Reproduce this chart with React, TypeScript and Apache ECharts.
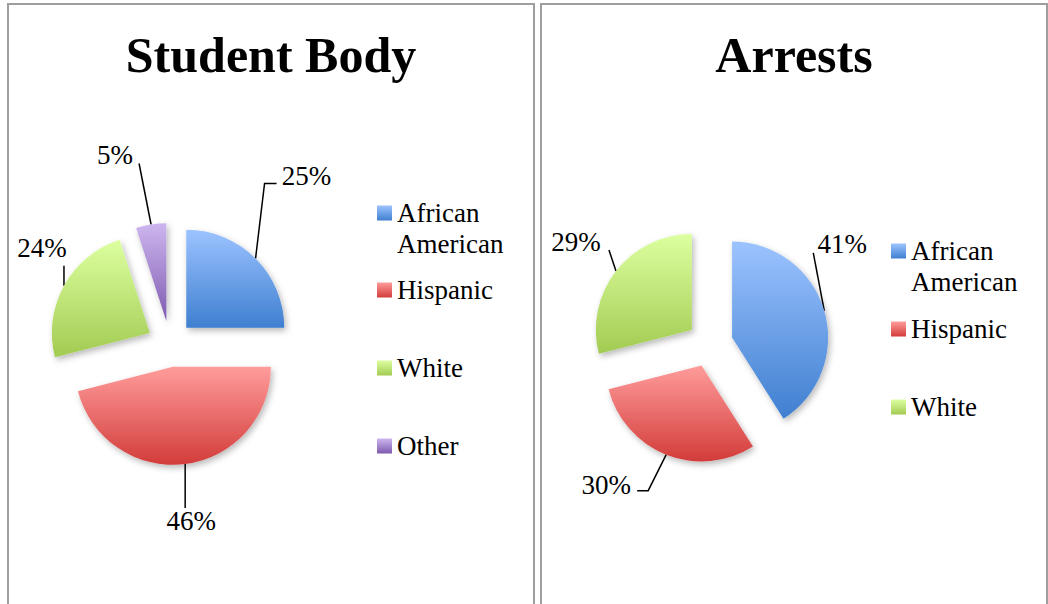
import React, { useEffect, useRef } from "react";
import * as echarts from "echarts";

// ---------- data ----------
const panelTitles = ["Student Body", "Arrests"];
const studentCategories = ["African American", "Hispanic", "White", "Other"];
const studentValues = [25, 46, 24, 5];
const arrestCategories = ["African American", "Hispanic", "White"];
const arrestValues = [41, 30, 29];

// ---------- styling / layout ----------
const FONT = '"Liberation Serif", "Times New Roman", serif';
const gradientStops: Record<string, [string, string]> = {
  "African American": ["#9CC3FF", "#3F7FD0"],
  Hispanic: ["#FF9C9B", "#D23C3A"],
  White: ["#DDFFA0", "#A2CB52"],
  Other: ["#CDB6EF", "#7E5AAF"],
};

// label placement relative to the slice's leader anchor (layout only)
const studentLabelOffsets = [
  { label: [51, -82], line: [[9, -75], [21, -75]] },
  { label: [6, 57], line: [[0, 44]] },
  { label: [-22, -38], line: [[0, -20]] },
  { label: [-36, -69], line: [[-12, -61]] },
];
const arrestLabelOffsets = [
  { label: [18, -67], line: [[-11, -58]] },
  { label: [-60, 30], line: [[-18, 36], [-29, 36]] },
  { label: [-40, -29], line: [[-7, -21]] },
];

const legendLayout = [
  { names: studentCategories, left: 377, centers: [213, 290, 368, 446] },
  { names: arrestCategories, left: 891, centers: [251, 329, 407] },
];

const EXPLODE = 23;

function grad(name: string) {
  const [a, b] = gradientStops[name];
  return new echarts.graphic.LinearGradient(0, 0, 0, 1, [
    { offset: 0, color: a },
    { offset: 1, color: b },
  ]);
}

// one pie series per slice, each shifted outward along its mid-angle (exploded pie)
function explodedPie(
  cats: string[],
  vals: number[],
  center: [number, number],
  radius: number,
  offsets: { label: number[]; line: number[][] }[]
) {
  const total = vals.reduce((s, v) => s + v, 0);
  let cum = 0;
  return cats.map((name, i) => {
    const v = vals[i];
    const startFrac = cum / total;
    const midFrac = (cum + v / 2) / total;
    cum += v;
    const mid = midFrac * 2 * Math.PI; // clockwise from 12 o'clock
    const c: [number, number] = [
      center[0] + EXPLODE * Math.sin(mid),
      center[1] - EXPLODE * Math.cos(mid),
    ];
    const cfg = offsets[i];
    return {
      type: "pie",
      center: c,
      radius,
      startAngle: 90 - startFrac * 360,
      clockwise: true,
      silent: true,
      avoidLabelOverlap: false,
      emphasis: { disabled: true },
      itemStyle: {
        shadowBlur: 6,
        shadowOffsetX: 2,
        shadowOffsetY: 3,
        shadowColor: "rgba(0,0,0,0.28)",
      },
      data: [
        { name, value: v, itemStyle: { color: grad(name) } },
        {
          name: "__rest",
          value: total - v,
          itemStyle: {
            color: "rgba(0,0,0,0)",
            shadowBlur: 0,
            shadowOffsetX: 0,
            shadowOffsetY: 0,
            shadowColor: "rgba(0,0,0,0)",
          },
          label: { show: false },
          labelLine: { show: false },
        },
      ],
      label: {
        show: true,
        position: "outside",
        formatter: (p: any) => `${p.value}%`,
        fontFamily: FONT,
        fontSize: 27,
        color: "#000",
      },
      labelLine: {
        show: true,
        length: 10,
        length2: 10,
        lineStyle: { color: "#000", width: 1.5 },
      },
      labelLayout: (params: any) => {
        const pts = params.labelLinePoints;
        if (params.dataIndex !== 0 || !pts) return {};
        const p0 = pts[0];
        return {
          x: p0[0] + cfg.label[0],
          y: p0[1] + cfg.label[1],
          align: "center",
          verticalAlign: "middle",
          labelLinePoints: [
            [p0[0], p0[1]],
            ...cfg.line.map((d) => [p0[0] + d[0], p0[1] + d[1]]),
          ],
        };
      },
    };
  });
}

export default function App() {
  const ref = useRef<HTMLDivElement>(null);

  useEffect(() => {
    if (!ref.current) return;
    const chart = echarts.init(ref.current, undefined, { renderer: "svg" });

    const legends: any[] = [];
    legendLayout.forEach((lg) => {
      lg.names.forEach((name, i) => {
        const lines = name === "African American" ? 3 : 1;
        legends.push({
          data: [name],
          left: lg.left,
          top: lg.centers[i] - (lines * 31) / 2,
          padding: 0,
          icon: "rect",
          itemWidth: 15,
          itemHeight: 15,
          selectedMode: false,
          formatter: (n: string) =>
            n === "African American" ? " \nAfrican\nAmerican" : n,
          textStyle: {
            fontFamily: FONT,
            fontSize: 27,
            lineHeight: 31,
            color: "#000",
          },
        });
      });
    });

    chart.setOption({
      animation: false,
      backgroundColor: "#fff",
      legend: legends,
      graphic: [
        {
          type: "rect",
          shape: { x: 8, y: 4, width: 526, height: 700 },
          style: { fill: "none", stroke: "#9e9e9e", lineWidth: 2 },
          silent: true,
        },
        {
          type: "rect",
          shape: { x: 541, y: 4, width: 506, height: 700 },
          style: { fill: "none", stroke: "#9e9e9e", lineWidth: 2 },
          silent: true,
        },
        {
          type: "text",
          x: 271,
          y: 55,
          style: {
            text: panelTitles[0],
            align: "center",
            verticalAlign: "middle",
            font: `bold 50px ${FONT}`,
            fill: "#000",
          },
        },
        {
          type: "text",
          x: 794,
          y: 55,
          style: {
            text: panelTitles[1],
            align: "center",
            verticalAlign: "middle",
            font: `bold 50px ${FONT}`,
            fill: "#000",
          },
        },
      ],
      series: [
        ...explodedPie(studentCategories, studentValues, [170, 344], 98, studentLabelOffsets),
        ...explodedPie(arrestCategories, arrestValues, [710, 344], 96, arrestLabelOffsets),
      ],
    });

    return () => chart.dispose();
  }, []);

  return (
    <div
      ref={ref}
      style={{ position: "absolute", left: 0, top: 0, width: 1048, height: 604 }}
    />
  );
}
